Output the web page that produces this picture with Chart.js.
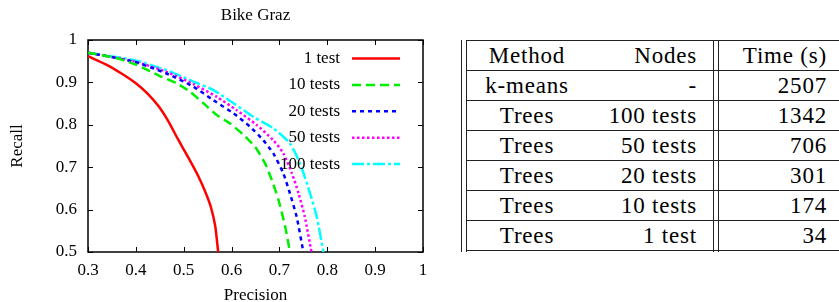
<!DOCTYPE html>
<html>
<head>
<meta charset="utf-8">
<script src="https://cdn.jsdelivr.net/npm/chart.js@4/dist/chart.umd.min.js"></script>
<style>
  body { margin: 0; background: #fff; width: 839px; height: 302px; overflow: hidden; position: relative; }
  #plot { position: absolute; left: 0; top: 0; width: 440px; height: 302px; }
  #tbl { position: absolute; left: 461px; top: 40px; width: 400px; height: 212px; }
  #tbl table { position: absolute; left: 5px; top: 0; border-collapse: collapse; table-layout: fixed; }
  #tbl td { height: 29px; padding: 0; border-top: 1px solid #222; border-bottom: 1px solid #222; white-space: nowrap;
    font-family: "Liberation Serif", serif !important; font-size: 23px; letter-spacing: 0.8px; color: #000; }
  #tbl td.c1 { width: 122px; text-align: center; }
  #tbl td.c2 { width: 109px; text-align: right; padding-right: 16px; }
  #tbl td.gap { width: 5px; }
  #tbl td.c3 { width: 109px; text-align: right; padding-right: 16px; }
  .vl { position: absolute; top: 0; width: 1px; height: 212px; background: #222; }
</style>
</head>
<body>
<div id="plot"><canvas id="prChart" width="440" height="302"></canvas></div>
<div id="tbl">
  <div class="vl" style="left:0px"></div>
  <div class="vl" style="left:5px"></div>
  <div class="vl" style="left:252px"></div>
  <div class="vl" style="left:257px"></div>
  <table><tbody id="tbody"></tbody></table>
</div>
<script>
// curva precision / recall por numero de tests
const labels = ['1 test', '10 tests', '20 tests', '50 tests', '100 tests'];

const prec1 = [0.300, 0.340, 0.370, 0.400, 0.425, 0.448, 0.468, 0.488, 0.510, 0.530, 0.545, 0.557, 0.566, 0.572];
const rec1 = [0.962, 0.941, 0.921, 0.898, 0.873, 0.843, 0.808, 0.766, 0.722, 0.680, 0.642, 0.605, 0.560, 0.500];

const prec10 = [0.300, 0.360, 0.402, 0.450, 0.485, 0.513, 0.541, 0.569, 0.597, 0.625, 0.649, 0.670, 0.684, 0.698, 0.712, 0.722];
const rec10 = [0.970, 0.957, 0.941, 0.915, 0.898, 0.878, 0.851, 0.823, 0.803, 0.776, 0.748, 0.709, 0.670, 0.623, 0.560, 0.500];

const prec20 = [0.300, 0.395, 0.464, 0.520, 0.562, 0.604, 0.638, 0.666, 0.687, 0.708, 0.722, 0.736, 0.750];
const rec20 = [0.970, 0.949, 0.921, 0.890, 0.858, 0.827, 0.796, 0.764, 0.733, 0.686, 0.638, 0.583, 0.500];

const prec50 = [0.300, 0.395, 0.464, 0.520, 0.569, 0.610, 0.652, 0.687, 0.708, 0.726, 0.740, 0.753, 0.767];
const rec50 = [0.970, 0.950, 0.925, 0.896, 0.866, 0.835, 0.800, 0.764, 0.733, 0.686, 0.638, 0.583, 0.500];

const prec100 = [0.300, 0.395, 0.464, 0.520, 0.562, 0.604, 0.645, 0.687, 0.722, 0.743, 0.764, 0.778, 0.792];
const rec100 = [0.970, 0.953, 0.929, 0.902, 0.882, 0.851, 0.819, 0.792, 0.756, 0.709, 0.638, 0.583, 0.500];

// tabla de tiempos
const tableHeader = ['Method', 'Nodes', 'Time (s)'];
const methods = ['k-means', 'Trees', 'Trees', 'Trees', 'Trees', 'Trees'];
const nodes = ['-', '100 tests', '50 tests', '20 tests', '10 tests', '1 test'];
const times = ['2507', '1342', '706', '301', '174', '34'];

const FONT = "'Liberation Serif', serif";

function pts(xs, ys) {
    return xs.map((x, i) => ({ x: x, y: ys[i] }));
}

function serie(i, xs, ys, color, dash) {
    return {
        label: labels[i],
        data: pts(xs, ys),
        borderColor: color,
        backgroundColor: color,
        borderWidth: 2.5,
        borderDash: dash,
        showLine: true,
        pointRadius: 0,
        tension: 0.2
    };
}

// marco y marcas hacia dentro (estilo gnuplot)
const frameTicks = {
    id: 'frameTicks',
    beforeDatasetsDraw(chart) {
        const { ctx, chartArea: a, scales: { x, y } } = chart;
        const len = 5;
        ctx.save();
        ctx.strokeStyle = '#000';
        ctx.lineWidth = 1;
        ctx.beginPath();
        x.ticks.forEach(t => {
            const px = Math.round(x.getPixelForValue(t.value)) + 0.5;
            ctx.moveTo(px, a.bottom); ctx.lineTo(px, a.bottom - len);
            ctx.moveTo(px, a.top); ctx.lineTo(px, a.top + len);
        });
        y.ticks.forEach(t => {
            const py = Math.round(y.getPixelForValue(t.value)) + 0.5;
            ctx.moveTo(a.left, py); ctx.lineTo(a.left + len, py);
            ctx.moveTo(a.right, py); ctx.lineTo(a.right - len, py);
        });
        ctx.stroke();
        ctx.lineWidth = 1.5;
        ctx.strokeRect(Math.round(a.left), Math.round(a.top), Math.round(a.right - a.left), Math.round(a.bottom - a.top));
        ctx.restore();
    }
};

// leyenda dentro del area, texto a la derecha alineado
const innerLegend = {
    id: 'innerLegend',
    afterDatasetsDraw(chart) {
        const { ctx, chartArea: a } = chart;
        ctx.save();
        ctx.font = '17px ' + FONT;
        ctx.textAlign = 'right';
        ctx.textBaseline = 'middle';
        chart.data.datasets.forEach((ds, i) => {
            const yy = a.top + 18.5 + i * 26.4;
            ctx.fillStyle = '#000';
            ctx.fillText(ds.label, a.right - 83, yy);
            ctx.strokeStyle = ds.borderColor;
            ctx.lineWidth = ds.borderWidth;
            ctx.setLineDash(ds.borderDash || []);
            ctx.beginPath();
            ctx.moveTo(a.right - 71, yy);
            ctx.lineTo(a.right - 23, yy);
            ctx.stroke();
        });
        ctx.restore();
    }
};

function buildTable() {
    const st = ' style="font-family: \'Liberation Serif\', serif !important"';
    let html = `<tr><td class="c1"${st}>${tableHeader[0]}</td><td class="c2"${st}>${tableHeader[1]}</td><td class="gap"></td><td class="c3"${st}>${tableHeader[2]}</td></tr>`;
    for (let i = 0; i < methods.length; i++) {
        html += `<tr><td class="c1"${st}>${methods[i]}</td><td class="c2"${st}>${nodes[i]}</td><td class="gap"></td><td class="c3"${st}>${times[i]}</td></tr>`;
    }
    document.getElementById('tbody').innerHTML = html;
}

const tickFmt = v => String(Math.round(v * 10) / 10);

function renderChart() {
    const ctx = document.getElementById('prChart').getContext('2d');
    new Chart(ctx, {
        type: 'scatter',
        data: {
            datasets: [
                serie(0, prec1, rec1, '#ff0000', []),
                serie(1, prec10, rec10, '#00ee00', [9, 5]),
                serie(2, prec20, rec20, '#0000ff', [4, 4]),
                serie(3, prec50, rec50, '#ff00ff', [2.5, 2.5]),
                serie(4, prec100, rec100, '#00ffff', [12, 3, 3, 3])
            ]
        },
        options: {
            responsive: false,
            devicePixelRatio: 1,
            animation: false,
            layout: { padding: { left: 0, right: 17, top: 0, bottom: 0 } },
            plugins: {
                legend: { display: false },
                tooltip: { enabled: false },
                title: {
                    display: true,
                    text: 'Bike Graz',
                    fullSize: false,
                    color: '#000',
                    font: { family: FONT, size: 17, weight: 'normal', lineHeight: 1.2 },
                    padding: { top: 5, bottom: 14.6 }
                }
            },
            scales: {
                x: {
                    type: 'linear',
                    min: 0.3, max: 1,
                    afterFit: s => { s.height = 50; },
                    ticks: { stepSize: 0.1, padding: 8, color: '#000', font: { family: FONT, size: 17 }, callback: tickFmt },
                    grid: { display: false, drawTicks: false },
                    border: { display: false },
                    title: { display: true, text: 'Precision', color: '#000', font: { family: FONT, size: 17 }, padding: { top: 0, bottom: -4 } }
                },
                y: {
                    min: 0.5, max: 1,
                    afterFit: s => { s.width = 88; },
                    ticks: { stepSize: 0.1, padding: 11, color: '#000', font: { family: FONT, size: 17 }, callback: tickFmt },
                    grid: { display: false, drawTicks: false },
                    border: { display: false },
                    title: { display: true, text: 'Recall', color: '#000', font: { family: FONT, size: 17 }, padding: { top: 7, bottom: 0 } }
                }
            }
        },
        plugins: [frameTicks, innerLegend]
    });
}

buildTable();
renderChart();
</script>
</body>
</html>
